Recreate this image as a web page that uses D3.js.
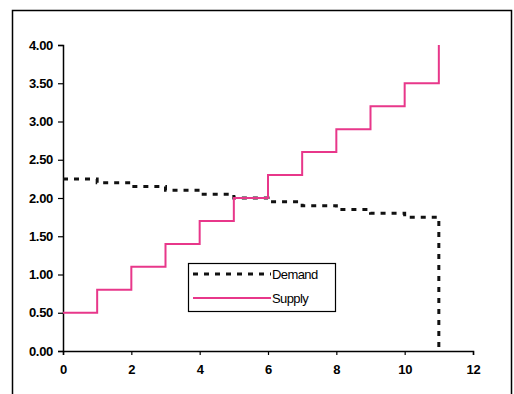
<!DOCTYPE html>
<html>
<head>
<meta charset="utf-8">
<script src="https://cdn.jsdelivr.net/npm/d3@7"></script>
<style>
  body{ margin:0; background:#fff; }
  svg text{ font-family:"Liberation Sans", Arial, sans-serif; }
</style>
</head>
<body>
<div id="chart"></div>
<script>
// Quantity steps (x) and prices (y).
var quantities = [0,1,2,3,4,5,6,7,8,9,10,11];
var supply_prices = [0.50,0.80,1.10,1.40,1.70,2.00,2.30,2.60,2.90,3.20,3.50,4.00];
var demand_prices = [2.25,2.20,2.15,2.10,2.05,2.00,1.95,1.90,1.85,1.80,1.75,0.00];
var x_ticks = [0,2,4,6,8,10,12];
var y_ticks = [0,0.5,1,1.5,2,2.5,3,3.5,4];
var series_labels = ['Demand','Supply'];

var figure_width = 514, figure_height = 394;
var plot_margin = { left: 63, top: 45, right: 41, bottom: 43 };
var plot_width = figure_width - plot_margin.left - plot_margin.right;
var plot_height = figure_height - plot_margin.top - plot_margin.bottom;

var root = d3.select('#chart')
  .append('svg')
    .attr('width', figure_width)
    .attr('height', figure_height);

// Outer chart frame (open at the bottom, as in the scan).
root.append('path')
  .attr('d', 'M12.5,' + (figure_height + 2) + 'V10.5H511.5V' + (figure_height + 2))
  .attr('fill', 'none')
  .attr('stroke', '#000')
  .attr('stroke-width', 1.5);

var svg = root.append('g')
  .attr('transform', 'translate(' + plot_margin.left + ',' + plot_margin.top + ')');

var x_scale = d3.scaleLinear().domain([0, 12]).range([0, plot_width]);
var y_scale = d3.scaleLinear().domain([0, 4]).range([plot_height, 0]);

// Y axis
var y_axis = svg.append('g')
  .call(d3.axisLeft(y_scale).tickValues(y_ticks).tickFormat(d3.format('.2f')).tickSize(5).tickPadding(5));
// X axis
var x_axis = svg.append('g')
  .attr('transform', 'translate(0,' + plot_height + ')')
  .call(d3.axisBottom(x_scale).tickValues(x_ticks).tickSize(4).tickPadding(10));

[x_axis, y_axis].forEach(function(ax){
  ax.selectAll('path').attr('stroke', '#000').attr('stroke-width', 1.5);
  ax.selectAll('line').attr('stroke', '#000').attr('stroke-width', 1.2);
  ax.selectAll('text')
    .attr('fill', '#000')
    .style('font-size', '13px')
    .style('font-weight', 'bold')
    .style('letter-spacing', '-0.3px');
});

// Step lines: value at quantity i holds until quantity i+1.
var step_line = d3.line()
  .x(function(d){ return x_scale(d[0]) })
  .y(function(d){ return y_scale(d[1]) })
  .curve(d3.curveStepAfter);

var supply_data = quantities.map(function(q, i){ return [q, supply_prices[i]] });
var demand_data = quantities.map(function(q, i){ return [q, demand_prices[i]] });

svg.append('path')
  .datum(demand_data)
  .attr('d', step_line)
  .attr('fill', 'none')
  .attr('stroke', '#111')
  .attr('stroke-width', 3)
  .attr('stroke-dasharray', '5,6');

svg.append('path')
  .datum(supply_data)
  .attr('d', step_line)
  .attr('fill', 'none')
  .attr('stroke', '#e8378a')
  .attr('stroke-width', 2);

// Legend
var legend = root.append('g').attr('transform', 'translate(188,263)');
legend.append('rect')
  .attr('x', 0.5).attr('y', 0.5)
  .attr('width', 147).attr('height', 48)
  .attr('fill', '#fff')
  .attr('stroke', '#000')
  .attr('stroke-width', 1.2);
var legend_styles = [
  { stroke: '#111', width: 3, dash: '5,6' },
  { stroke: '#e8378a', width: 2, dash: null }
];
series_labels.forEach(function(label, i){
  var y = 11 + i*24;
  legend.append('line')
    .attr('x1', 5).attr('x2', 83)
    .attr('y1', y).attr('y2', y)
    .attr('stroke', legend_styles[i].stroke)
    .attr('stroke-width', legend_styles[i].width)
    .attr('stroke-dasharray', legend_styles[i].dash);
  legend.append('text')
    .attr('x', 84).attr('y', y + 5)
    .style('font-size', '13px')
    .style('letter-spacing', '-0.6px')
    .text(label);
});
</script>
</body>
</html>
